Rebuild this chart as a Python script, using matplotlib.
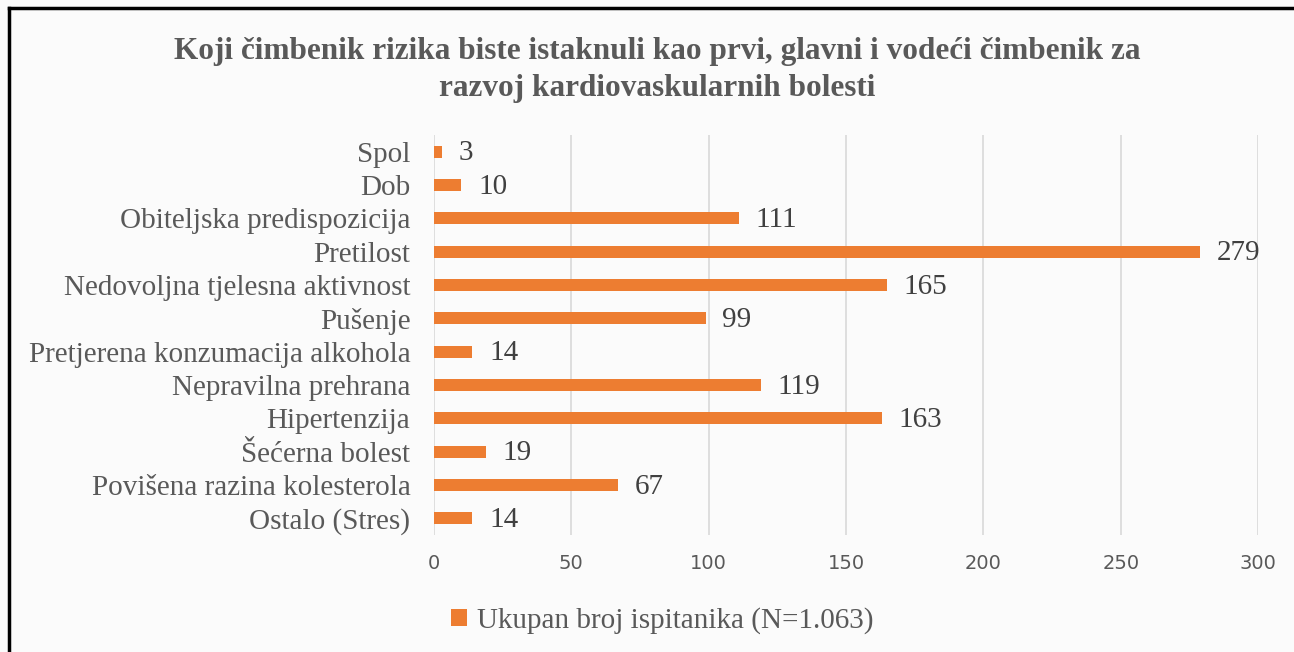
import numpy as np
import matplotlib.pyplot as plt

categories = ['Spol', 'Dob', 'Obiteljska predispozicija', 'Pretilost',
              'Nedovoljna tjelesna aktivnost', 'Pušenje',
              'Pretjerena konzumacija alkohola', 'Nepravilna prehrana',
              'Hipertenzija', 'Šećerna bolest', 'Povišena razina kolesterola',
              'Ostalo (Stres)']
values = [3, 10, 111, 279, 165, 99, 14, 119, 163, 19, 67, 14]
series_name = 'Ukupan broj ispitanika (N=1.063)'
title = ('Koji čimbenik rizika biste istaknuli kao prvi, glavni i vodeći čimbenik za\n'
         'razvoj kardiovaskularnih bolesti')

serif = 'Liberation Serif'
bar_color = '#ed7d31'
bg = '#fbfbfb'

fig = plt.figure(figsize=(12.94, 6.52), dpi=100, facecolor=bg)
ax = fig.add_axes([0.3354, 0.1794, 0.6368, 0.6136], facecolor=bg)

y = np.arange(len(categories))
bars = ax.barh(y, values, height=0.36, color=bar_color, zorder=3,
               label=series_name)
ax.set_ylim(len(categories) - 0.5, -0.5)
ax.set_xlim(0, 300)
ax.set_xticks(np.arange(0, 301, 50))

# value labels next to each bar
for v, yi in zip(values, y):
    ax.text(v + 6, yi + 0.05, str(v), va='center', ha='left', fontsize=21,
            family=serif, color='#404040')

ax.set_yticks(y)
ax.set_yticklabels(categories, family=serif, fontsize=21, color='#595959')
ax.tick_params(axis='y', length=0, pad=17)
ax.tick_params(axis='x', length=0, pad=14, labelsize=14, labelcolor='#595959')
ax.grid(axis='x', color='#d9d9d9', linewidth=1.2, zorder=0)
for s in ax.spines.values():
    s.set_visible(False)

fig.text(0.508, 0.893, title, ha='center', va='center', fontsize=22.5,
         fontweight='bold', family=serif, color='#595959', linespacing=1.35)

leg = fig.legend(handles=[bars], labels=[series_name], loc='center',
                 bbox_to_anchor=(0.512, 0.048), frameon=False,
                 prop={'family': serif, 'size': 21}, handlelength=0.55,
                 handleheight=0.55, handletextpad=0.35)
for t in leg.get_texts():
    t.set_color('#595959')

# partial frame around chart (left and top edges visible)
fig.add_artist(plt.Line2D([0.007, 0.007], [0, 0.988], color='black', lw=2.5,
                          transform=fig.transFigure))
fig.add_artist(plt.Line2D([0.007, 1.0], [0.988, 0.988], color='black', lw=2.5,
                          transform=fig.transFigure))

plt.savefig('out.png', dpi=100, facecolor=bg)
